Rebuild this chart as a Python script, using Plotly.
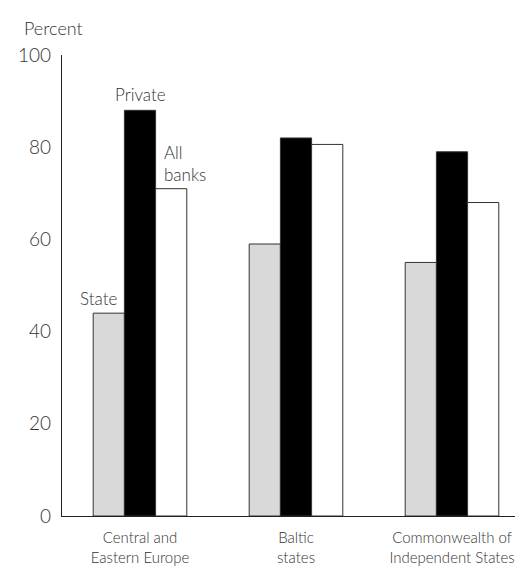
import plotly.graph_objects as go

categories = ["Central and<br>Eastern Europe", "Baltic<br>states", "Commonwealth of<br>Independent States"]
state = [44, 59, 55]
private = [88, 82, 79]
all_banks = [71, 80.6, 68]
y_ticks = [0, 20, 40, 60, 80, 100]

FONT = dict(family="Lato", size=17, color="#333333", weight=300)

fig = go.Figure()
fig.add_trace(go.Bar(x=categories, y=state, name="State",
                     marker=dict(color="#d9d9d9", line=dict(color="#333333", width=1))))
fig.add_trace(go.Bar(x=categories, y=private, name="Private",
                     marker=dict(color="#000000", line=dict(color="#333333", width=1))))
fig.add_trace(go.Bar(x=categories, y=all_banks, name="All banks",
                     marker=dict(color="#ffffff", line=dict(color="#333333", width=1))))

fig.update_layout(
    width=523, height=570,
    margin=dict(l=54, r=1, t=47, b=62),
    paper_bgcolor="white", plot_bgcolor="white",
    barmode="group", bargap=0.4, bargroupgap=0,
    showlegend=False,
    font=FONT,
    xaxis=dict(showline=True, linecolor="#222222", linewidth=1.3, ticks="",
               showgrid=False, zeroline=False, range=[-0.5, 2.5],
               tickfont=dict(family="Lato", size=15, color="#333333", weight=300),
               ticklabelstandoff=8),
    yaxis=dict(showline=True, linecolor="#222222", linewidth=1.3, ticks="",
               showgrid=False, zeroline=False, range=[0, 100],
               tickvals=y_ticks, ticktext=[str(v) for v in y_ticks],
               tickfont=dict(family="Lato", size=19, color="#333333", weight=300),
               ticklabelstandoff=6),
    annotations=[
        dict(text="Percent", x=0, xref="paper", xshift=-40, y=1, yref="paper", yshift=27,
             xanchor="left", yanchor="middle", showarrow=False, font=dict(FONT, size=18)),
        dict(text="Private", x=categories[0], xref="x", y=private[0], yref="y",
             yanchor="bottom", yshift=3, showarrow=False, font=FONT),
        dict(text="All<br>banks", x=categories[0], xref="x", xshift=22, y=all_banks[0], yref="y",
             xanchor="left", yanchor="bottom", yshift=2, align="left", showarrow=False, font=FONT),
        dict(text="State", x=categories[0], xref="x", xshift=-42, y=state[0], yref="y",
             yanchor="bottom", yshift=2, showarrow=False, font=FONT),
    ],
)

fig.write_html("out.html")
